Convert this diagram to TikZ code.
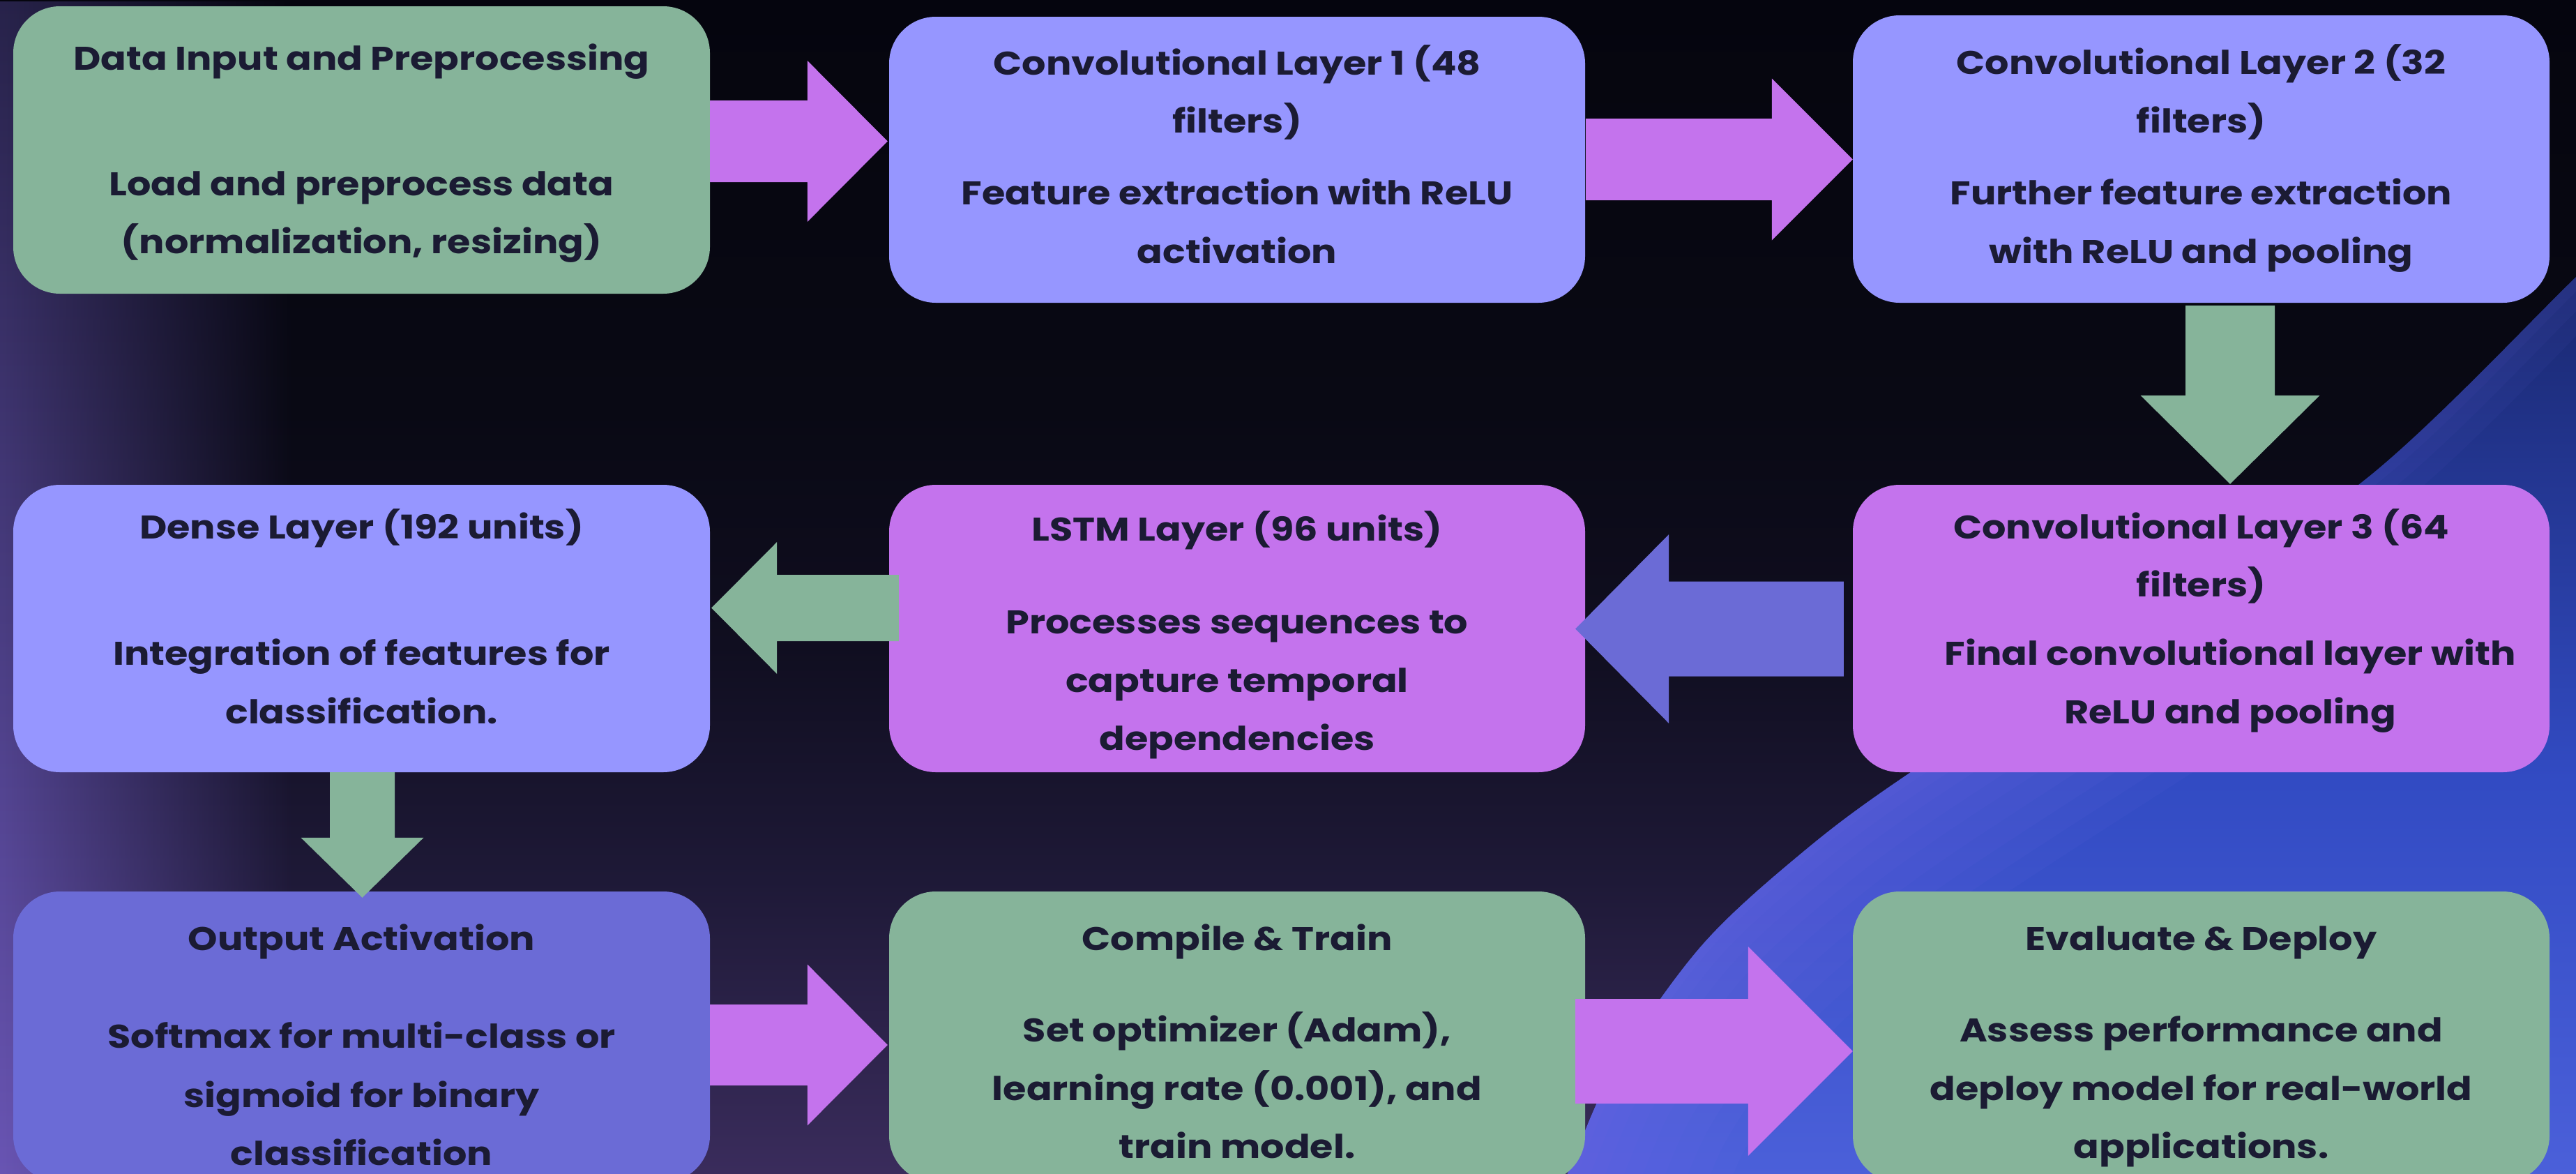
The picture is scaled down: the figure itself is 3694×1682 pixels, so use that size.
\documentclass[tikz,border=0pt]{standalone}
\usepackage{fontspec}
\setmainfont{Poppins}[FakeStretch=1.15]
\usetikzlibrary{calc,fadings}
\definecolor{cGreen}{RGB}{134,180,154}
\definecolor{cPeri}{RGB}{150,150,255}
\definecolor{cMag}{RGB}{196,115,237}
\definecolor{cBlu}{RGB}{107,107,214}
\definecolor{cText}{RGB}{27,27,51}
\definecolor{bgA}{RGB}{58,44,92}
\definecolor{bgB}{RGB}{30,25,55}
\definecolor{bgC}{RGB}{16,14,32}
\definecolor{bgD}{RGB}{9,9,20}
\definecolor{bgE}{RGB}{5,5,14}
\definecolor{blA}{RGB}{80,100,222}
\definecolor{blB}{RGB}{50,75,195}
\definecolor{blC}{RGB}{22,35,100}
\definecolor{glA}{RGB}{105,85,180}
\definecolor{glB}{RGB}{40,35,75}
\definecolor{lav}{RGB}{120,110,235}
\pgfdeclareverticalshading{bgV}{100bp}{color(0bp)=(bgA); color(25bp)=(bgA); color(37.5bp)=(bgB); color(47.5bp)=(bgC); color(57.5bp)=(bgD); color(75bp)=(bgE); color(100bp)=(bgE)}
\pgfdeclareverticalshading{blV}{100bp}{color(0bp)=(blA); color(25bp)=(blA); color(47.6bp)=(blB); color(75bp)=(blC); color(100bp)=(blC)}
\pgfdeclareverticalshading{glV}{100bp}{color(0bp)=(glA); color(25bp)=(glA); color(75bp)=(glB); color(100bp)=(glB)}
\tikzfading[name=fadeLR, left color=transparent!0, right color=transparent!100]
% horizontal block arrow: color, from, to, tail offset, tip offset, y centre, shaft half, head half, head length (signed)
\newcommand\blkarrowH[9]{%
  \fill[#1] let \p1=(#2), \p2=(#3), \n1={\x1+(#4)}, \n2={\x2+(#5)}, \n3={\x2+(#5)-(#9)} in
   (\n1,{-(#6)+(#7)}) -- (\n3,{-(#6)+(#7)}) -- (\n3,{-(#6)+(#8)}) -- (\n2,{-(#6)})
   -- (\n3,{-(#6)-(#8)}) -- (\n3,{-(#6)-(#7)}) -- (\n1,{-(#6)-(#7)}) -- cycle;}
% vertical block arrow (downwards): color, from, to, tail offset, tip offset, x centre, shaft half, head half, head length
\newcommand\blkarrowV[9]{%
  \fill[#1] let \p1=(#2), \p2=(#3), \n1={\y1-(#4)}, \n2={\y2-(#5)}, \n3={\y2-(#5)+(#9)} in
   ({#6-(#7)},\n1) -- ({#6-(#7)},\n3) -- ({#6-(#8)},\n3) -- (#6,\n2)
   -- ({#6+(#8)},\n3) -- ({#6+(#7)},\n3) -- ({#6+(#7)},\n1) -- cycle;}
\begin{document}
\begin{tikzpicture}[x=1pt,y=1pt,
  blk/.style={rectangle, rounded corners=67pt, inner sep=0pt, minimum width=999pt, minimum height=412pt},
  txt/.style={inner sep=0pt, anchor=base, text=cText, font=\fontsize{47}{56}\selectfont\bfseries}]
\useasboundingbox (0,0) rectangle (3694,-1682);
\clip (0,0) rectangle (3694,-1682);
% background
\shade[shading=bgV] (0,0) rectangle (3694,-1682);
\shade[shading=glV, path fading=fadeLR] (0,0) rectangle (420,-1682);
\shade[shading=blV] plot[smooth,tension=0.55] coordinates {(2195,-1800) (2248,-1682) (2314,-1534) (2438,-1358) (2581,-1225) (2734,-1111) (3060,-900) (3391,-688) (3694,-397) (3800,-295)} -- (3800,-1800) -- cycle;
\begin{scope}
\clip plot[smooth,tension=0.55] coordinates {(2195,-1800) (2248,-1682) (2314,-1534) (2438,-1358) (2581,-1225) (2734,-1111) (3060,-900) (3391,-688) (3694,-397) (3800,-295)} -- (3800,-1800) -- cycle;
\foreach \w in {440,380,320,260,200,150,100,60,25}
  \draw[lav, line width=\w pt, opacity=0.07] plot[smooth,tension=0.55] coordinates {(2195,-1800) (2248,-1682) (2314,-1534) (2438,-1358) (2581,-1225) (2734,-1111) (3060,-900)};
\foreach \w in {120,70,30}
  \draw[lav, line width=\w pt, opacity=0.05] plot[smooth,tension=0.55] coordinates {(3000,-940) (3391,-688) (3694,-397) (3800,-295)};
\end{scope}
% boxes
\node[blk, fill=cGreen] (b1) at (518.5,-215) {};
\node[blk, fill=cPeri, minimum width=998pt, minimum height=410pt] (b2) at (1774,-229) {};
\node[blk, fill=cPeri] (b3) at (3156.5,-228) {};
\node[blk, fill=cPeri] (b4) at (518.5,-901) {};
\node[blk, fill=cMag, minimum width=998pt] (b5) at (1774,-901) {};
\node[blk, fill=cMag] (b6) at (3156.5,-901) {};
\node[blk, fill=cBlu, minimum height=417pt] (b7) at (518.5,-1486.5) {};
\node[blk, fill=cGreen, minimum width=998pt, minimum height=417pt] (b8) at (1774,-1486.5) {};
\node[blk, fill=cGreen, minimum height=417pt] (b9) at (3156.5,-1486.5) {};
% texts
\node[txt] (t1a) at (518.5,-100) {Data Input and Preprocessing};
\node[txt] (t1b) at (518.5,-280) {Load and preprocess data};
\node[txt] (t1c) at (518.5,-363) {(normalization, resizing)};
\node[txt] (t2a) at (1774,-107) {Convolutional Layer 1 (48};
\node[txt] (t2b) at (1774,-190) {filters)};
\node[txt] (t2c) at (1774,-293) {Feature extraction with ReLU};
\node[txt] (t2d) at (1774,-377) {activation};
\node[txt] (t3a) at (3156.5,-106) {Convolutional Layer 2 (32};
\node[txt] (t3b) at (3156.5,-190) {filters)};
\node[txt] (t3c) at (3156.5,-293) {Further feature extraction};
\node[txt] (t3d) at (3156.5,-377) {with ReLU and pooling};
\node[txt] (t4a) at (518.5,-772) {Dense Layer (192 units)};
\node[txt] (t4b) at (518.5,-953) {Integration of features for};
\node[txt] (t4c) at (518.5,-1037) {classification.};
\node[txt] (t5a) at (1774,-775) {LSTM Layer (96 units)};
\node[txt] (t5b) at (1774,-908) {Processes sequences to};
\node[txt] (t5c) at (1774,-992) {capture temporal};
\node[txt] (t5d) at (1774,-1075) {dependencies};
\node[txt] (t6a) at (3156.5,-772) {Convolutional Layer 3 (64};
\node[txt] (t6b) at (3156.5,-855) {filters)};
\node[txt] (t6c) at (3198,-953) {Final convolutional layer with};
\node[txt] (t6d) at (3198,-1037) {ReLU and pooling};
\node[txt] (t7a) at (518.5,-1362) {Output Activation};
\node[txt] (t7b) at (518.5,-1502) {Softmax for multi-class or};
\node[txt] (t7c) at (518.5,-1587) {sigmoid for binary};
\node[txt] (t7d) at (518.5,-1670) {classification};
\node[txt] (t8a) at (1774,-1362) {Compile \& Train};
\node[txt] (t8b) at (1774,-1493) {Set optimizer (Adam),};
\node[txt] (t8c) at (1774,-1577) {learning rate (0.001), and};
\node[txt] (t8d) at (1774,-1660) {train model.};
\node[txt] (t9a) at (3156.5,-1362) {Evaluate \& Deploy};
\node[txt] (t9b) at (3156.5,-1493) {Assess performance and};
\node[txt] (t9c) at (3156.5,-1577) {deploy model for real-world};
\node[txt] (t9d) at (3156.5,-1660) {applications.};
% arrows
\blkarrowH{cMag}{b1.east}{b2.west}{0}{-2}{202.5}{58.5}{115.5}{115}
\blkarrowH{cMag}{b2.east}{b3.west}{1}{0}{228.5}{58.5}{116}{116}
\blkarrowV{cGreen}{b3.south}{b6.north}{4}{-1}{3198}{64}{128.5}{127}
\blkarrowH{cBlu}{b6.west}{b5.east}{-13}{-14}{901.5}{68}{135.5}{-134}
\blkarrowH{cGreen}{b5.west}{b4.east}{14}{2}{871.5}{47.5}{94.5}{-94}
\blkarrowV{cGreen}{b4.south}{b7.north}{0}{9}{519.5}{46.5}{88}{86}
\blkarrowH{cMag}{b7.east}{b8.west}{0}{-2}{1498}{58}{115.5}{115}
\blkarrowH{cMag}{b8.east}{b9.west}{-14}{0}{1507}{75}{150}{150}
\end{tikzpicture}
\end{document}
